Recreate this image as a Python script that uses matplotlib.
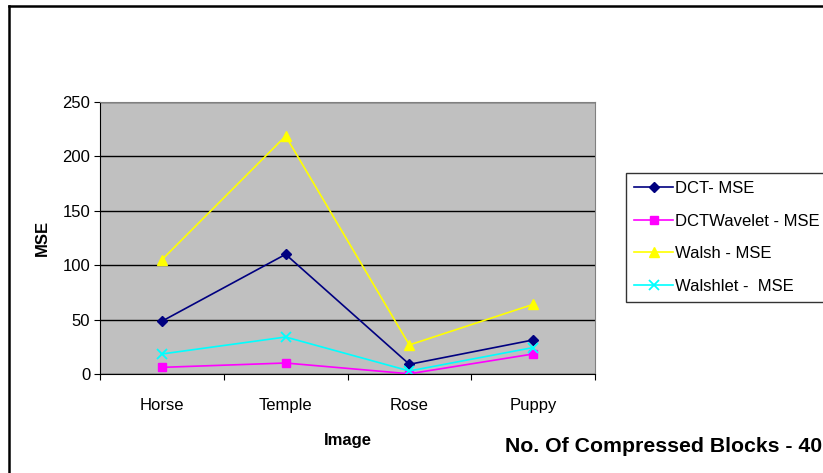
import matplotlib.pyplot as plt
from matplotlib.lines import Line2D

plt.rcParams['font.family'] = ['Liberation Sans', 'DejaVu Sans']

images = ['Horse', 'Temple', 'Rose', 'Puppy']
dct_mse = [48.5, 110, 8.9, 31.3]
dctwavelet_mse = [6.1, 10.1, 0.2, 18.4]
walsh_mse = [105, 218.7, 26.7, 64]
walshlet_mse = [18.4, 34, 2.8, 24.3]

W, H = 823, 473
fig = plt.figure(figsize=(W / 100, H / 100), dpi=100)
ax = fig.add_axes([100 / W, 1 - 374 / H, 495 / W, 272 / H])
ax.set_facecolor('#c0c0c0')

x = [i + 0.5 for i in range(len(images))]
ax.plot(x, dct_mse, color='#000080', marker='D', ms=5, lw=1.2, label='DCT- MSE')
ax.plot(x, dctwavelet_mse, color='#ff00ff', marker='s', ms=6, lw=1.2, label='DCTWavelet - MSE')
ax.plot(x, walsh_mse, color='#ffff00', marker='^', ms=7, lw=1.2, label='Walsh - MSE')
ax.plot(x, walshlet_mse, color='#00ffff', marker='x', ms=7, mew=1.3, lw=1.2, label='Walshlet -  MSE')

ax.set_xlim(0, 4)
ax.set_ylim(0, 250)
ax.set_yticks(range(0, 251, 50))
ax.yaxis.grid(True, color='black', lw=1)
ax.set_axisbelow(True)
ax.set_xticks(range(5))
ax.set_xticklabels([])
ax.set_xticks(x, minor=True)
ax.set_xticklabels(images, minor=True)
ax.tick_params(axis='x', which='minor', length=0, pad=17, labelsize=12)
ax.tick_params(axis='x', which='major', length=4, direction='out')
ax.tick_params(axis='y', length=4, labelsize=12, pad=3)
for s in ['top', 'right']:
    ax.spines[s].set_color('#808080')
for s in ['left', 'bottom']:
    ax.spines[s].set_color('black')

ax.set_ylabel('MSE', fontsize=12, fontweight='bold', labelpad=9)
ax.set_xlabel('Image', fontsize=12, fontweight='bold', labelpad=15)

leg = fig.legend(loc='upper left', bbox_to_anchor=(626 / W, 1 - 173 / H),
                 frameon=True, fancybox=False, edgecolor='black', fontsize=12,
                 handlelength=2.3, handletextpad=0.15, labelspacing=1.05,
                 borderpad=0.5, borderaxespad=0)
leg.get_frame().set_linewidth(1)

fig.text(505 / W, 1 - 446 / H, 'No. Of Compressed Blocks - 40', fontsize=15.3,
         fontweight='bold', va='center', ha='left')

# outer frame: only top and left edges are visible in the original
fig.lines.append(Line2D([9 / W, 9 / W], [0, 1 - 6.5 / H], transform=fig.transFigure,
                        color='black', lw=1.8))
fig.lines.append(Line2D([9 / W, 1], [1 - 6.5 / H, 1 - 6.5 / H], transform=fig.transFigure,
                        color='black', lw=1.8))

fig.savefig('out.png', dpi=100)
